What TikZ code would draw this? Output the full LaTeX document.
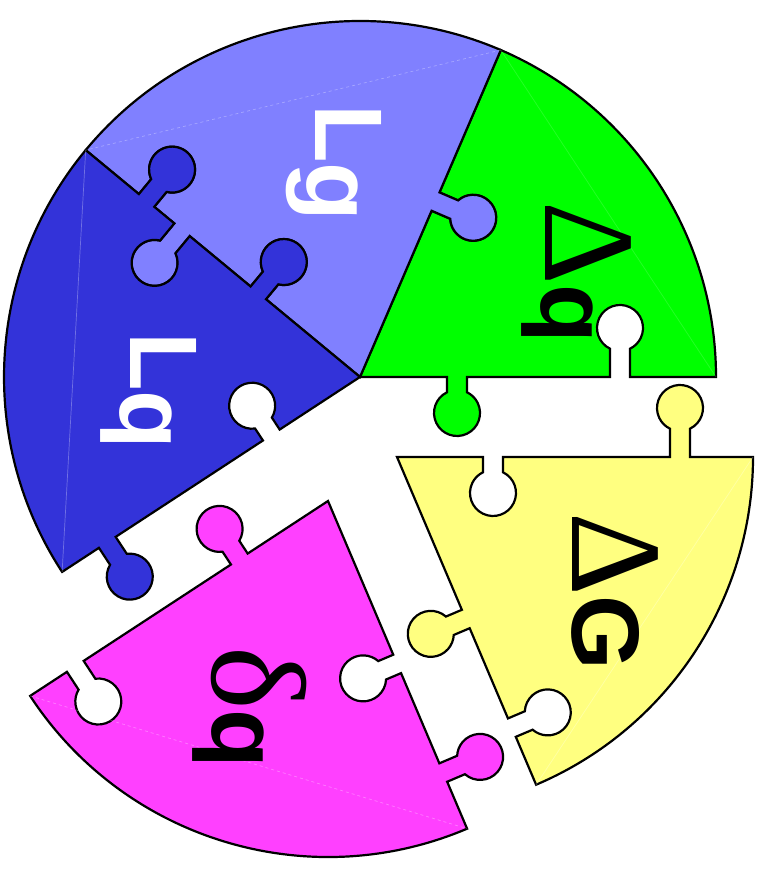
\documentclass[tikz,border=0pt]{standalone}
\usepackage{fontspec}
\setmainfont{Liberation Sans}
\newfontfamily\greekserif{Liberation Serif}
\usepackage{tikz}
\definecolor{lgblue}{RGB}{128,128,255}
\definecolor{lqblue}{RGB}{51,51,217}
\definecolor{dqgreen}{RGB}{0,255,0}
\definecolor{dgyellow}{RGB}{255,255,128}
\definecolor{dlqpink}{RGB}{255,64,255}
\tikzset{
  piece/.style={draw=black,line width=2.2pt,line join=miter},
  chord/.style={draw=white,line width=0.7pt,opacity=0.3},
  piecetext/.style={
    anchor=base west,
    rotate=-90,
    inner sep=0pt,
    font=\fontsize{96}{100}\selectfont\bfseries
  },
}
% knob on a piece edge: position along the edge, distance of the ball, side (1 in, -1 out)
\newcommand\knob[3]{%
  -- ({#1-10},0) -- ({#1-10},{#3*(#2-20.7)})
  arc[start angle={#3*244.2},end angle={#3*(-64.2)},radius=23]
  -- ({#1+10},0)}
\newcommand\bigdelta{{\greekserif\mdseries\fontsize{130}{130}\selectfont Δ}}

\begin{document}
\begin{tikzpicture}[x=1pt,y=1pt]
  \useasboundingbox (0,0) rectangle (758,874);

  % Pieces still round the hub
  \begin{scope}[shift={(360,497)}]
    \filldraw[piece,fill=dqgreen] (0,0)
      {[rotate=0] \knob{97}{36}{-1} \knob{260}{49}{1} -- (356,0)}
      arc[start angle=0,end angle=66.7,radius=356]
      {[rotate=246.7] \knob{-191}{41}{1} -- (0,0)} -- cycle;
    \filldraw[piece,fill=lgblue] (0,0)
      {[rotate=66.7] \knob{191}{41}{-1} -- (356,0)}
      arc[start angle=66.7,end angle=140.4,radius=356]
      {[rotate=320.4] \knob{-277}{40}{1} \knob{-231}{43}{-1} \knob{-132}{40}{1} -- (0,0)} -- cycle;
    \filldraw[piece,fill=lqblue] (0,0)
      {[rotate=140.4] \knob{132}{40}{-1} \knob{231}{43}{1} \knob{277}{40}{-1} -- (356,0)}
      arc[start angle=140.4,end angle=213.2,radius=356]
      {[rotate=393.2] \knob{-302}{41}{-1} \knob{-106}{35}{1} -- (0,0)} -- cycle;
    \draw[chord,opacity=0.15] (0:356) -- (66.7:356);
    \draw[chord,dashed] (66.7:356) -- (140.4:356);
    \draw[chord] (140.4:356) -- (213.2:356);
  \end{scope}

  % Loose piece, lower left
  \begin{scope}[shift={(328,373)}]
    \filldraw[piece,fill=dlqpink] (0,0)
      {[rotate=213.2] \knob{106}{36}{-1} \knob{302}{42}{1} -- (356,0)}
      arc[start angle=213.2,end angle=293,radius=356]
      {[rotate=473] \knob{-295}{40}{-1} \knob{-177}{37}{1} -- (0,0)} -- cycle;
    \draw[chord,dashed] (213.2:356) -- (293:356);
  \end{scope}

  % Loose piece, lower right
  \begin{scope}[shift={(397,417)}]
    \filldraw[piece,fill=dgyellow] (0,0)
      {[rotate=293] \knob{176}{38}{-1} \knob{294}{39}{1} -- (356,0)}
      arc[start angle=293,end angle=360,radius=356]
      {[rotate=540] \knob{-283}{49}{-1} \knob{-96}{36}{1} -- (0,0)} -- cycle;
    \draw[chord] (293:356) -- (360:356);
  \end{scope}

  % Labels
  \node[piecetext,text=white] (lgtext) at (315,770) {L\raisebox{-9pt}{g}};
  \node[piecetext,text=white] (lqtext) at (130,542) {L\raisebox{-10pt}{q}};
  \node[piecetext] (dqtext) at (545,673) {\bigdelta\raisebox{-4pt}{q}};
  \node[piecetext] (dgtext) at (572,362) {\bigdelta G};
  \node[piecetext] (dlqtext) at (212,228) {{\greekserif\mdseries\fontsize{135}{135}\selectfont δ}q};
\end{tikzpicture}
\end{document}
